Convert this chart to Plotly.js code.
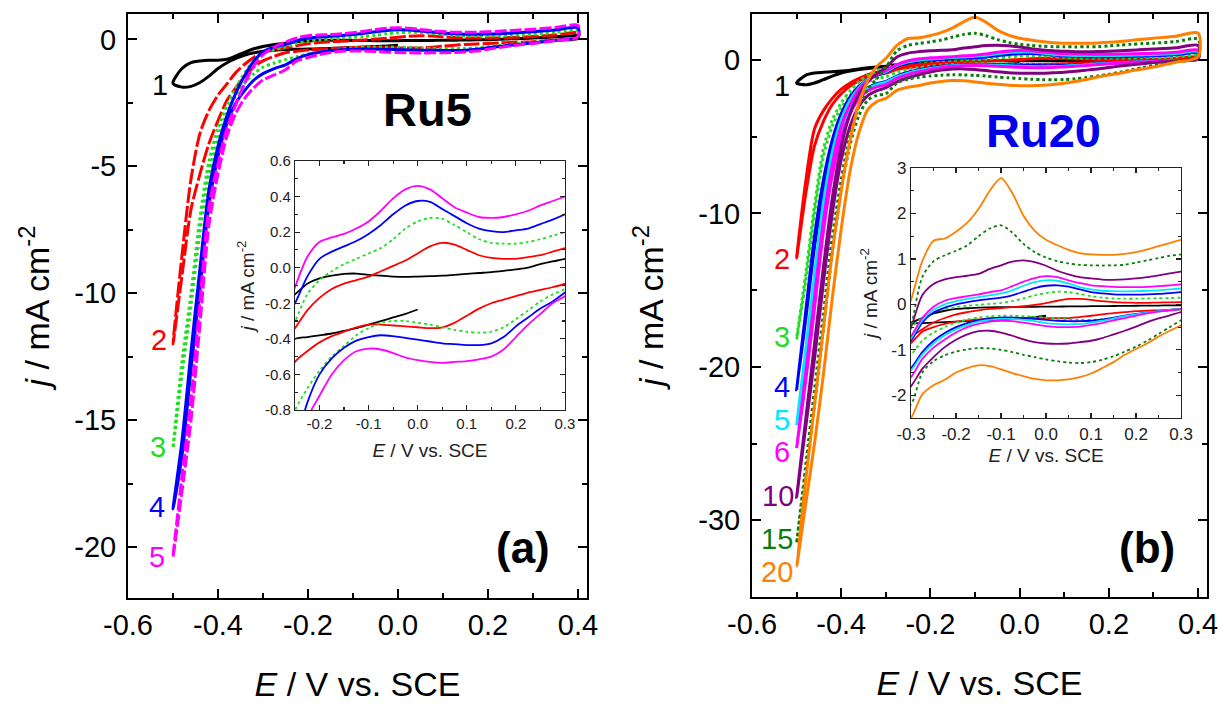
<!DOCTYPE html>
<html>
<head>
<meta charset="utf-8">
<script src="https://cdn.plot.ly/plotly-3.0.1.min.js"></script>
<style>html,body{margin:0;padding:0;background:#fff;}#chart{width:1226px;height:706px;}</style>
</head>
<body>
<div id="chart"></div>
<script>
// ---------- potential grid (V vs. SCE), shared by every cyclic voltammogram ----------
const E = [-0.50,-0.48,-0.46,-0.44,-0.42,-0.40,-0.38,-0.36,-0.34,-0.32,-0.30,-0.275,-0.25,-0.225,-0.20,-0.175,-0.15,-0.125,-0.10,-0.075,-0.05,-0.025,0.00,0.025,0.05,0.075,0.10,0.125,0.15,0.175,0.20,0.225,0.25,0.275,0.30,0.35,0.40];

// ---------- Ru5 (panel a): current density j (mA cm-2), cathodic sweep and anodic sweep ----------
const ru5_1_cath = [-1.73,-1.88,-1.85,-1.70,-1.45,-1.15,-0.92,-0.75,-0.62,-0.53,-0.47,-0.43,-0.40,-0.39,-0.38,-0.37,-0.355,-0.34,-0.32,-0.30,-0.28,-0.26,-0.235,null,null,null,null,null,null,null,null,null,null,null,null,null,null];
const ru5_1_anod = [-1.73,-1.15,-0.92,-0.85,-0.82,-0.82,-0.78,-0.65,-0.50,-0.37,-0.28,-0.20,-0.15,-0.09,-0.06,-0.045,-0.035,-0.033,-0.04,-0.045,-0.05,-0.052,-0.05,-0.048,-0.045,-0.04,-0.035,-0.03,-0.025,-0.018,-0.01,0.0,0.02,0.035,0.05,0.10,0.15];
const ru5_2_cath = [-12.0,-9.3,-6.7,-5.3,-4.1,-3.2,-2.4,-1.9,-1.45,-1.08,-0.85,-0.67,-0.53,-0.47,-0.42,-0.385,-0.36,-0.335,-0.32,-0.32,-0.325,-0.33,-0.335,-0.34,-0.335,-0.31,-0.27,-0.23,-0.20,-0.18,-0.16,-0.14,-0.125,-0.11,-0.09,-0.02,0.04];
const ru5_2_anod = [-12.0,-8.5,-5.5,-3.7,-2.8,-2.2,-1.75,-1.3,-0.97,-0.7,-0.52,-0.42,-0.34,-0.24,-0.17,-0.12,-0.09,-0.07,-0.05,-0.02,0.01,0.04,0.08,0.12,0.14,0.13,0.10,0.07,0.055,0.05,0.05,0.06,0.07,0.09,0.11,0.17,0.25];
const ru5_3_cath = [-16.1,-13.2,-10.5,-7.6,-5.3,-3.9,-2.9,-2.2,-1.7,-1.35,-1.1,-0.93,-0.8,-0.68,-0.58,-0.5,-0.44,-0.38,-0.34,-0.31,-0.30,-0.30,-0.31,-0.32,-0.335,-0.35,-0.36,-0.365,-0.36,-0.335,-0.29,-0.24,-0.19,-0.15,-0.12,-0.03,0.06];
const ru5_3_anod = [-16.1,-12.7,-10.0,-7.0,-4.8,-3.5,-2.6,-1.9,-1.3,-0.85,-0.55,-0.4,-0.3,-0.15,-0.07,-0.02,0.02,0.05,0.08,0.11,0.16,0.22,0.26,0.28,0.275,0.24,0.20,0.16,0.14,0.135,0.135,0.145,0.16,0.18,0.20,0.27,0.35];
const ru5_4_cath = [-18.5,-16.4,-13.0,-9.8,-6.5,-4.6,-3.3,-2.5,-2.0,-1.6,-1.35,-1.15,-1.0,-0.76,-0.6,-0.51,-0.45,-0.41,-0.39,-0.38,-0.385,-0.395,-0.405,-0.415,-0.425,-0.43,-0.435,-0.435,-0.425,-0.39,-0.33,-0.28,-0.23,-0.19,-0.14,-0.04,0.08];
const ru5_4_anod = [-18.5,-15.8,-12.3,-9.0,-5.9,-4.2,-3.0,-2.1,-1.4,-0.85,-0.5,-0.3,-0.2,-0.05,0.05,0.09,0.12,0.15,0.19,0.24,0.30,0.35,0.375,0.37,0.33,0.29,0.25,0.22,0.205,0.20,0.21,0.22,0.245,0.27,0.30,0.37,0.45];
const ru5_5_cath = [-20.4,-17.8,-15.0,-11.2,-7.3,-5.3,-3.8,-2.9,-2.3,-1.9,-1.6,-1.4,-1.2,-0.85,-0.72,-0.6,-0.52,-0.47,-0.455,-0.46,-0.48,-0.505,-0.52,-0.53,-0.535,-0.53,-0.525,-0.515,-0.5,-0.46,-0.39,-0.32,-0.26,-0.2,-0.16,-0.05,0.10];
const ru5_5_anod = [-20.4,-17.2,-14.2,-10.3,-6.6,-4.9,-3.5,-2.55,-1.7,-1.05,-0.6,-0.3,-0.11,0.06,0.145,0.17,0.19,0.22,0.26,0.32,0.39,0.44,0.46,0.44,0.39,0.34,0.31,0.285,0.28,0.285,0.30,0.32,0.35,0.375,0.40,0.47,0.55];

// ---------- Ru20 (panel b) ----------
const ru20_1_cath = [-1.5,-1.62,-1.5,-1.28,-1.05,-0.85,-0.72,-0.62,-0.55,-0.48,-0.42,-0.41,-0.40,-0.39,-0.38,-0.37,-0.36,-0.345,-0.33,-0.315,-0.30,-0.28,-0.25,null,null,null,null,null,null,null,null,null,null,null,null,null,null];
const ru20_1_anod = [-1.5,-1.0,-0.85,-0.8,-0.76,-0.72,-0.66,-0.58,-0.5,-0.45,-0.4,-0.3,-0.2,-0.14,-0.1,-0.085,-0.07,-0.065,-0.06,-0.058,-0.055,-0.052,-0.05,-0.048,-0.045,-0.043,-0.04,-0.038,-0.035,-0.033,-0.03,-0.028,-0.025,-0.022,-0.02,0.0,0.1];
const ru20_2_cath = [-12.9,-8.8,-5.6,-4.0,-2.9,-2.2,-1.7,-1.35,-1.1,-0.95,-0.85,-0.6,-0.5,-0.43,-0.38,-0.35,-0.33,-0.31,-0.30,-0.30,-0.30,-0.30,-0.30,-0.30,-0.30,-0.28,-0.25,-0.22,-0.19,-0.17,-0.15,-0.14,-0.13,-0.12,-0.11,-0.05,0.04];
const ru20_2_anod = [-12.9,-8.0,-4.5,-3.3,-2.5,-1.9,-1.5,-1.2,-0.95,-0.8,-0.7,-0.55,-0.4,-0.3,-0.22,-0.17,-0.13,-0.1,-0.08,-0.06,-0.04,-0.01,0.03,0.08,0.12,0.12,0.1,0.07,0.05,0.04,0.035,0.035,0.04,0.045,0.05,0.1,0.2];
const ru20_3_cath = [-18.2,-14.5,-10.0,-6.3,-4.3,-3.1,-2.3,-1.75,-1.4,-1.2,-1.1,-0.8,-0.62,-0.5,-0.4,-0.33,-0.29,-0.26,-0.25,-0.25,-0.26,-0.27,-0.29,-0.31,-0.33,-0.34,-0.34,-0.33,-0.30,-0.26,-0.22,-0.19,-0.16,-0.14,-0.12,-0.05,0.05];
const ru20_3_anod = [-18.2,-14.0,-9.5,-5.8,-3.9,-2.8,-2.0,-1.4,-1.0,-0.7,-0.5,-0.3,-0.17,-0.1,-0.06,-0.03,-0.01,0.01,0.03,0.07,0.13,0.2,0.25,0.28,0.27,0.23,0.18,0.15,0.13,0.125,0.125,0.13,0.135,0.14,0.15,0.2,0.3];
const ru20_4_cath = [-21.5,-17.0,-12.2,-8.5,-5.8,-4.0,-2.9,-2.2,-1.8,-1.55,-1.4,-1.05,-0.8,-0.63,-0.5,-0.41,-0.35,-0.31,-0.29,-0.29,-0.3,-0.32,-0.34,-0.36,-0.37,-0.37,-0.36,-0.33,-0.29,-0.25,-0.21,-0.18,-0.15,-0.12,-0.1,-0.04,0.06];
const ru20_4_anod = [-21.5,-16.5,-11.5,-7.8,-5.2,-3.5,-2.4,-1.7,-1.25,-1.0,-0.8,-0.4,-0.18,-0.07,0.0,0.05,0.09,0.12,0.15,0.2,0.28,0.36,0.41,0.42,0.39,0.33,0.27,0.24,0.22,0.215,0.215,0.22,0.23,0.25,0.27,0.34,0.45];
const ru20_5_cath = [-23.8,-19.5,-14.8,-10.0,-6.6,-4.5,-3.2,-2.3,-1.85,-1.6,-1.45,-1.1,-0.86,-0.68,-0.55,-0.45,-0.38,-0.34,-0.32,-0.32,-0.34,-0.37,-0.41,-0.43,-0.44,-0.43,-0.4,-0.36,-0.31,-0.26,-0.22,-0.18,-0.15,-0.12,-0.1,-0.04,0.07];
const ru20_5_anod = [-23.8,-19.0,-14.0,-9.3,-6.0,-3.9,-2.6,-1.8,-1.25,-0.95,-0.75,-0.35,-0.12,0.0,0.07,0.12,0.16,0.2,0.24,0.31,0.41,0.49,0.53,0.52,0.46,0.38,0.33,0.3,0.29,0.285,0.29,0.3,0.31,0.33,0.35,0.42,0.55];
const ru20_6_cath = [-25.3,-21.0,-16.2,-11.2,-7.5,-5.0,-3.5,-2.5,-2.0,-1.75,-1.6,-1.2,-0.95,-0.77,-0.62,-0.5,-0.43,-0.38,-0.36,-0.37,-0.4,-0.44,-0.48,-0.5,-0.5,-0.49,-0.45,-0.41,-0.35,-0.3,-0.25,-0.2,-0.16,-0.13,-0.1,-0.04,0.08];
const ru20_6_anod = [-25.3,-20.5,-15.5,-10.5,-6.8,-4.3,-2.9,-1.9,-1.3,-0.95,-0.7,-0.3,-0.05,0.08,0.14,0.18,0.22,0.27,0.31,0.4,0.5,0.58,0.62,0.6,0.53,0.47,0.42,0.4,0.385,0.38,0.38,0.385,0.4,0.42,0.44,0.5,0.65];
const ru20_10_cath = [-28.5,-24.0,-19.5,-14.5,-10.0,-6.5,-4.3,-3.0,-2.3,-2.0,-1.8,-1.42,-1.16,-0.94,-0.78,-0.66,-0.59,-0.58,-0.62,-0.69,-0.77,-0.83,-0.86,-0.87,-0.86,-0.83,-0.8,-0.74,-0.66,-0.58,-0.49,-0.39,-0.31,-0.24,-0.17,-0.06,0.1];
const ru20_10_anod = [-28.5,-23.5,-18.5,-13.5,-9.0,-5.6,-3.5,-2.2,-1.4,-0.9,-0.5,0.2,0.45,0.55,0.6,0.63,0.67,0.78,0.86,0.94,0.97,0.93,0.85,0.74,0.66,0.6,0.57,0.545,0.54,0.55,0.57,0.6,0.64,0.68,0.72,0.8,0.95];
const ru20_15_cath = [-31.5,-27.0,-22.5,-17.5,-12.5,-8.5,-5.5,-3.6,-2.6,-2.3,-2.2,-1.5,-1.25,-1.12,-1.04,-0.99,-0.96,-0.97,-1.0,-1.05,-1.11,-1.16,-1.21,-1.25,-1.28,-1.29,-1.27,-1.22,-1.14,-1.04,-0.93,-0.8,-0.65,-0.5,-0.35,-0.1,0.15];
const ru20_15_anod = [-31.5,-26.5,-21.5,-16.5,-11.5,-7.8,-4.8,-3.0,-1.9,-1.2,-0.5,0.6,0.95,1.08,1.18,1.3,1.5,1.67,1.74,1.58,1.33,1.15,1.03,0.95,0.9,0.87,0.86,0.855,0.86,0.87,0.92,0.97,1.02,1.07,1.1,1.2,1.35];
const ru20_20_cath = [-33.0,-29.0,-25.0,-20.5,-15.5,-11.0,-7.2,-4.7,-3.2,-2.7,-2.5,-1.98,-1.78,-1.66,-1.5,-1.4,-1.34,-1.36,-1.43,-1.51,-1.58,-1.64,-1.67,-1.67,-1.65,-1.6,-1.52,-1.4,-1.27,-1.11,-0.98,-0.86,-0.71,-0.58,-0.46,-0.15,0.2];
const ru20_20_anod = [-33.0,-27.5,-22.5,-17.5,-12.5,-8.5,-5.2,-2.8,-1.3,-0.4,0.1,0.95,1.4,1.45,1.6,1.8,2.1,2.5,2.78,2.45,1.95,1.62,1.42,1.3,1.2,1.13,1.1,1.09,1.09,1.11,1.15,1.21,1.28,1.35,1.42,1.55,1.75];

// ---------- cycle labels and tick labels ----------
const cyclesA = ['1','2','3','4','5'];
const cyclesB = ['1','2','3','4','5','6','10','15','20'];
const mainXTicks = [-0.6,-0.4,-0.2,0.0,0.2,0.4];
const mainXText  = ['-0.6','-0.4','-0.2','0.0','0.2','0.4'];
const mainAYTicks = [0,-5,-10,-15,-20];
const mainAYText  = ['0','-5','-10','-15','-20'];
const mainBYTicks = [0,-10,-20,-30];
const mainBYText  = ['0','-10','-20','-30'];
const insAXTicks = [-0.2,-0.1,0.0,0.1,0.2,0.3];
const insAXText  = ['-0.2','-0.1','0.0','0.1','0.2','0.3'];
const insAYTicks = [0.6,0.4,0.2,0.0,-0.2,-0.4,-0.6,-0.8];
const insAYText  = ['0.6','0.4','0.2','0.0','-0.2','-0.4','-0.6','-0.8'];
const insBXTicks = [-0.3,-0.2,-0.1,0.0,0.1,0.2,0.3];
const insBXText  = ['-0.3','-0.2','-0.1','0.0','0.1','0.2','0.3'];
const insBYTicks = [3,2,1,0,-1,-2];
const insBYText  = ['3','2','1','0','-1','-2'];

// ---------- styles ----------
const FONT = 'Liberation Sans, Arial, Helvetica, sans-serif';
const COL = {black:'#000000', red:'#ff0000', green:'#22dd22', blue:'#0000ff', cyan:'#00e8ff', magenta:'#ff00ff', purple:'#800080', dkgreen:'#0b7d0b', orange:'#ff8000'};

const seriesA = [
  {cath:ru5_1_cath, anod:ru5_1_anod, color:COL.black,   dMain:'solid',     dIns:'solid'},
  {cath:ru5_2_cath, anod:ru5_2_anod, color:COL.red,     dMain:'16px,3px',  dIns:'solid'},
  {cath:ru5_3_cath, anod:ru5_3_anod, color:COL.green,   dMain:'dot',       dIns:'dot'},
  {cath:ru5_4_cath, anod:ru5_4_anod, color:COL.blue,    dMain:'solid',     dIns:'solid'},
  {cath:ru5_5_cath, anod:ru5_5_anod, color:COL.magenta, dMain:'12px,3px',  dIns:'solid'}
];
const seriesB = [
  {cath:ru20_1_cath,  anod:ru20_1_anod,  color:COL.black,   dMain:'solid', dIns:'solid'},
  {cath:ru20_2_cath,  anod:ru20_2_anod,  color:COL.red,     dMain:'solid', dIns:'solid'},
  {cath:ru20_3_cath,  anod:ru20_3_anod,  color:COL.green,   dMain:'dot',   dIns:'dot'},
  {cath:ru20_4_cath,  anod:ru20_4_anod,  color:COL.blue,    dMain:'solid', dIns:'solid'},
  {cath:ru20_5_cath,  anod:ru20_5_anod,  color:COL.cyan,    dMain:'solid', dIns:'solid'},
  {cath:ru20_6_cath,  anod:ru20_6_anod,  color:COL.magenta, dMain:'solid', dIns:'solid'},
  {cath:ru20_10_cath, anod:ru20_10_anod, color:COL.purple,  dMain:'solid', dIns:'solid'},
  {cath:ru20_15_cath, anod:ru20_15_anod, color:COL.dkgreen, dMain:'dot',   dIns:'dot'},
  {cath:ru20_20_cath, anod:ru20_20_anod, color:COL.orange,  dMain:'solid', dIns:'solid'}
];

// build the closed CV loop: cathodic sweep 0.40 -> -0.50, anodic sweep back to 0.40
function loop(cath, anod) {
  const x = [], y = [];
  for (let i = E.length - 1; i >= 0; i--) { x.push(E[i]); y.push(cath[i]); }
  for (let i = 1; i < E.length; i++) { x.push(E[i]); y.push(anod[i]); }
  x.push(E[E.length - 1]); y.push(cath[E.length - 1]);
  return {x, y};
}

const traces = [];
function addSeries(list, xa, ya, xi, yi, wMain, wIns) {
  list.forEach(s => {
    const L = loop(s.cath, s.anod);
    traces.push({type:'scatter', mode:'lines', x:L.x, y:L.y, xaxis:xa, yaxis:ya,
      line:{color:s.color, width:wMain, dash:s.dMain, shape:'spline', smoothing:0.8}, hoverinfo:'skip', connectgaps:false});
  });
  list.forEach(s => {
    const L = loop(s.cath, s.anod);
    traces.push({type:'scatter', mode:'lines', x:L.x, y:L.y, xaxis:xi, yaxis:yi,
      line:{color:s.color, width:wIns, dash:s.dIns, shape:'spline', smoothing:0.8}, hoverinfo:'skip', connectgaps:false});
  });
}
addSeries(seriesA, 'x', 'y', 'x2', 'y2', 3, 1.8);
addSeries(seriesB, 'x3', 'y3', 'x4', 'y4', 3, 1.8);

function axis(o) {
  const big = o.big;
  return {
    domain:o.domain, range:o.range, anchor:o.anchor,
    showline:true, linecolor:big ? '#000' : '#222', linewidth:big ? 2 : 1.2, mirror:'ticks',
    ticks:'inside', ticklen:big ? 9 : 5, tickwidth:big ? 2 : 1.2, tickcolor:big ? '#000' : '#222',
    minor:{ticks:'inside', ticklen:big ? 5 : 3, tickwidth:big ? 2 : 1.2, tickcolor:big ? '#000' : '#222', tick0:o.mtick0, dtick:o.mdtick},
    tickmode:'array', tickvals:o.tickvals, ticktext:o.ticktext,
    tickfont:{family:FONT, size:o.fs, color:big ? '#000' : '#222'},
    ticklabelstandoff:o.tls || 0,
    showgrid:false, zeroline:false, automargin:false, fixedrange:true,
    title:{text:o.title, font:{family:FONT, size:o.tfs, color:big ? '#000' : '#222'}, standoff:o.standoff}
  };
}
const XT = '<i>E</i> / V vs. SCE';
const YT = '<i>j</i> / mA cm<sup>-2</sup>';

const layout = {
  width:1226, height:706, margin:{l:0, r:0, t:0, b:0},
  paper_bgcolor:'#ffffff', plot_bgcolor:'rgba(0,0,0,0)', showlegend:false, hovermode:false,
  xaxis:  axis({big:true, domain:[0.1044,0.4788], range:[-0.6,0.42], anchor:'y', tickvals:mainXTicks, ticktext:mainXText, mtick0:-0.6, mdtick:0.1, fs:29, title:XT, tfs:34, standoff:32}),
  yaxis:  axis({big:true, domain:[0.1530,0.9802], range:[-22,1], anchor:'x', tickvals:mainAYTicks, ticktext:mainAYText, mtick0:0, mdtick:2.5, fs:29, title:YT, tfs:34, standoff:14, tls:4}),
  xaxis2: axis({big:false, domain:[0.2406,0.4608], range:[-0.25,0.3], anchor:'y2', tickvals:insAXTicks, ticktext:insAXText, mtick0:-0.25, mdtick:0.05, fs:15, title:XT, tfs:19, standoff:12}),
  yaxis2: axis({big:false, domain:[0.4193,0.7720], range:[-0.8,0.6], anchor:'x2', tickvals:insAYTicks, ticktext:insAYText, mtick0:-0.8, mdtick:0.1, fs:15, title:YT, tfs:19, standoff:5}),
  xaxis3: axis({big:true, domain:[0.6134,0.9845], range:[-0.6,0.42], anchor:'y3', tickvals:mainXTicks, ticktext:mainXText, mtick0:-0.6, mdtick:0.1, fs:29, title:XT, tfs:34, standoff:32}),
  yaxis3: axis({big:true, domain:[0.1544,0.9802], range:[-35,3], anchor:'x3', tickvals:mainBYTicks, ticktext:mainBYText, mtick0:0, mdtick:5, fs:29, title:YT, tfs:34, standoff:24, tls:4}),
  xaxis4: axis({big:false, domain:[0.7431,0.9633], range:[-0.3,0.3], anchor:'y4', tickvals:insBXTicks, ticktext:insBXText, mtick0:-0.3, mdtick:0.05, fs:17, title:XT, tfs:19, standoff:6}),
  yaxis4: axis({big:false, domain:[0.4079,0.7620], range:[-2.5,3], anchor:'x4', tickvals:insBYTicks, ticktext:insBYText, mtick0:-2.5, mdtick:0.5, fs:17, title:YT, tfs:19, standoff:8}),
  annotations:[]
};

function note(text, px, py, size, color, bold) {
  layout.annotations.push({text: bold ? '<b>' + text + '</b>' : text, xref:'paper', yref:'paper',
    x:px / 1226, y:1 - py / 706, xanchor:'center', yanchor:'middle', showarrow:false,
    font:{family:FONT, size:size, color:color}});
}
note('Ru5', 427, 110, 47, '#000', true);
note('Ru20', 1043, 130, 47, '#0000ee', true);
note('(a)', 523, 547, 44, '#000', true);
note('(b)', 1147, 547, 44, '#000', true);

const posA = [[160,85],[159,340],[158,447],[157,507],[157,557]];
cyclesA.forEach((t, i) => note(t, posA[i][0], posA[i][1], 29, seriesA[i].color, false));
const posB = [[782,86],[782,259],[782,337],[782,387],[782,420],[782,452],[778,496],[777,539],[777,572]];
cyclesB.forEach((t, i) => note(t, posB[i][0], posB[i][1], 29, seriesB[i].color, false));

Plotly.newPlot('chart', traces, layout, {staticPlot:true, displayModeBar:false});
</script>
</body>
</html>
